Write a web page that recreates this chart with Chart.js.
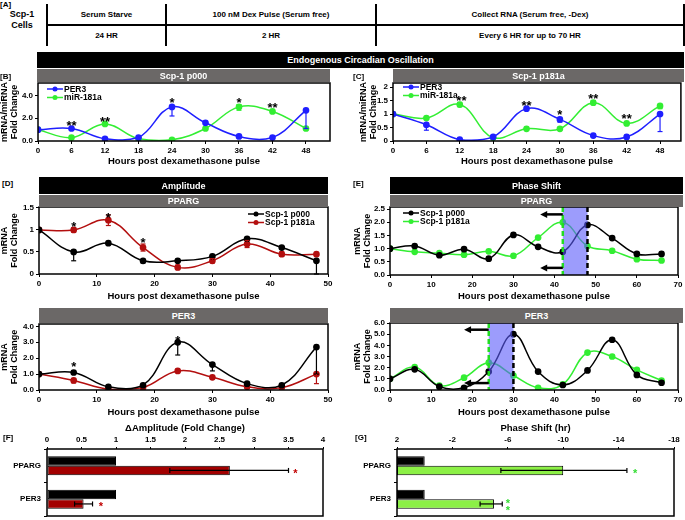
<!DOCTYPE html>
<html>
<head>
<meta charset="utf-8">
<script src="https://cdn.jsdelivr.net/npm/chart.js@4.4.0/dist/chart.umd.min.js"></script>
<style>
  body { margin: 0; width: 685px; height: 520px; position: relative; background: #fff; overflow: hidden;
         font-family: "Liberation Sans", Arial, sans-serif; }
  canvas { position: absolute; }
  .hdr { position: absolute; color: #fff; font-weight: bold; font-size: 9px; display: flex; align-items: center;
         justify-content: center; z-index: 2; font-family: "Liberation Sans Narrow", "Liberation Sans", Arial, sans-serif; }
  .blk { background: #000; }
  .gry { background: #6b6867; }
  .lbl { position: absolute; font-weight: bold; font-size: 8px; z-index: 2; }
  .ln { position: absolute; background: #000; }
  .cell { position: absolute; font-weight: bold; font-size: 8px; text-align: center;
          font-family: "Liberation Sans Narrow", "Liberation Sans", Arial, sans-serif; }
</style>
</head>
<body>
<div class="lbl" style="left:0;top:0">[A]</div>
<div class="cell" style="left:2px;top:9px;width:40px;line-height:11px;font-size:9px">Scp-1<br>Cells</div>
<div class="ln" style="left:46px;top:4px;width:2px;height:42px"></div>
<div class="ln" style="left:165px;top:4px;width:2px;height:42px"></div>
<div class="ln" style="left:375px;top:4px;width:2px;height:42px"></div>
<div class="ln" style="left:683px;top:4px;width:2px;height:42px"></div>
<div class="ln" style="left:47px;top:24px;width:637px;height:1.5px"></div>
<div class="cell" style="left:47px;top:10px;width:119px">Serum Starve</div>
<div class="cell" style="left:166px;top:10px;width:210px">100 nM Dex Pulse (Serum free)</div>
<div class="cell" style="left:376px;top:10px;width:308px">Collect RNA (Serum free, -Dex)</div>
<div class="cell" style="left:47px;top:31px;width:119px">24 HR</div>
<div class="cell" style="left:166px;top:31px;width:210px">2 HR</div>
<div class="cell" style="left:376px;top:31px;width:308px">Every 6 HR for up to 70 HR</div>

<div class="hdr blk" style="left:37px;top:52px;width:647px;height:16px">Endogenous Circadian Oscillation</div>
<div class="hdr gry" style="left:37px;top:69px;width:293px;height:13px">Scp-1 p000</div>
<div class="hdr gry" style="left:393px;top:69px;width:291px;height:13px">Scp-1 p181a</div>
<div class="lbl" style="left:0;top:72px">[B]</div>
<div class="lbl" style="left:353px;top:72px">[C]</div>

<div class="lbl" style="left:2px;top:179px">[D]</div>
<div class="hdr blk" style="left:39px;top:177px;width:289px;height:17px">Amplitude</div>
<div class="hdr gry" style="left:39px;top:195px;width:289px;height:12px">PPARG</div>
<div class="hdr gry" style="left:39px;top:308px;width:289px;height:15px">PER3</div>
<div class="lbl" style="left:353px;top:179px">[E]</div>
<div class="hdr blk" style="left:390px;top:177px;width:293px;height:17px">Phase Shift</div>
<div class="hdr gry" style="left:390px;top:195px;width:293px;height:12px">PPARG</div>
<div class="hdr gry" style="left:390px;top:308px;width:293px;height:15px">PER3</div>

<div class="lbl" style="left:3px;top:433px">[F]</div>
<div class="lbl" style="left:355px;top:433px">[G]</div>

<script>
// ---------- data ----------
const hours48 = [0, 6, 12, 18, 24, 30, 36, 42, 48];
const hours66 = [0, 6, 12, 18, 24, 30, 36, 42, 48, 54, 60, 66];

// [B] Scp-1 p000
const bPer3 = [1.0, 1.1, 0.2, 0.3, 3.0, 1.6, 0.4, 0.3, 2.7];
const bPer3Lo = [0, 0, 0, 0, 0.8, 0, 0, 0, 1.6];
const bMir = [1.0, 0.3, 1.5, 0.2, 0.1, 1.1, 3.0, 2.6, 1.1];
const bMirLo = [0, 0, 0, 0, 0, 0, 0.3, 0, 0];
const bMirHi = [0, 0, 0, 0, 0, 0, 0.2, 0, 0];
const bStars = [[6, 1.6, '**'], [12, 2.0, '**'], [24, 3.65, '*'], [36, 3.65, '*'], [42, 3.25, '**']];

// [C] Scp-1 p181a
const cPer3 = [1.0, 0.6, 0.05, 0.15, 1.2, 0.8, 0.2, 0.15, 1.0];
const cPer3Lo = [0, 0.2, 0, 0, 0, 0.1, 0, 0, 0.65];
const cPer3Hi = [0, 0, 0, 0, 0.03, 0.05, 0, 0, 0];
const cMir = [1.0, 0.85, 1.35, 0.12, 0.45, 0.45, 1.42, 0.65, 1.3];
const cMirLo = [0, 0, 0.08, 0, 0, 0, 0.07, 0, 0.1];
const cMirHi = [0, 0, 0.08, 0, 0, 0, 0.07, 0, 0];
const cStars = [[12.3, 1.6, '**'], [24, 1.43, '**'], [30, 1.11, '*'], [36, 1.68, '**'], [42, 0.94, '**']];

// [D] amplitude, PPARG
const dPpargP000 = [1.0, 0.5, 0.7, 0.3, 0.3, 0.4, 0.8, 0.6, 0.3];
const dPpargP000Lo = [0, 0.2, 0, 0.05, 0, 0, 0, 0, 0.3];
const dPpargP000Hi = [0, 0, 0.02, 0.03, 0, 0, 0, 0.02, 0];
const dPpargP181 = [1.0, 1.0, 1.22, 0.6, 0.15, 0.3, 0.68, 0.45, 0.45];
const dPpargP181Err = [0, 0.05, 0.12, 0.08, 0.05, 0.05, 0.08, 0.05, 0];
const dPpargStars = [[6, 1.15, '*'], [12, 1.36, '*'], [18, 0.79, '*']];
// [D] amplitude, PER3
const dPer3P000 = [1.0, 1.1, 0.2, 0.3, 3.0, 1.6, 0.4, 0.3, 2.7];
const dPer3P000Lo = [0, 0, 0, 0, 0.8, 0.4, 0, 0, 1.7];
const dPer3P181 = [1.0, 0.6, 0.05, 0.15, 1.2, 0.8, 0.2, 0.15, 1.0];
const dPer3P181Lo = [0, 0.15, 0, 0, 0, 0, 0, 0, 0.6];
const dPer3P181Hi = [0, 0.1, 0, 0, 0.05, 0, 0, 0, 0];
const dPer3Stars = [[6, 1.69, '*'], [24, 3.33, '*']];

// [E] phase shift
const ePpargP000 = [1.0, 1.1, 0.75, 0.98, 0.62, 1.52, 1.07, 0.88, 1.9, 1.4, 0.8, 0.8];
const ePpargP181 = [1.0, 0.88, 0.83, 0.77, 0.9, 0.73, 1.42, 2.0, 1.1, 0.92, 0.6, 0.55];
const ePpargPeaks = [42, 48];            // p181a peak, p000 peak
const ePpargArrows = [[42, 36.5, 2.3], [42, 36.5, 0.27]];
const ePer3P000 = [1.0, 1.85, 0.3, 0.2, 1.65, 5.0, 1.65, 0.45, 1.75, 4.5, 1.35, 0.65];
const ePer3P181 = [1.0, 2.05, 0.4, 1.1, 2.45, 1.3, 0.2, 0.5, 3.35, 3.0, 1.8, 0.85];
const ePer3Peaks = [24, 30];
const ePer3Arrows = [[24, 18, 5.4], [24, 18, 0.62]];

// [F] delta amplitude, [G] phase shift bars
const genes = ['PPARG', 'PER3'];
const fP000 = [1, 1];
const fP181 = [2.65, 0.53];
const fP181Lo = [0.87, 0.13];
const fP181Hi = [0.85, 0.13];
const fStars = [3.6, 0.78];
const gP000 = [0, 0];
const gP181 = [-10, -5];
const gP181Lo = [4.6, 0.6];
const gP181Hi = [4.5, 1.0];
const gStars = [-15.2, -6];

// tick values
const ticks48 = [0, 6, 12, 18, 24, 30, 36, 42, 48];
const ticks50 = [0, 10, 20, 30, 40, 50];
const ticks70 = [0, 10, 20, 30, 40, 50, 60, 70];
const bYTicks = [0, 2, 4];
const cYTicks = [0, 0.5, 1, 1.5, 2];
const dPpargYTicks = [0, 0.5, 1, 1.5];
const dPer3YTicks = [0, 1, 2, 3, 4];
const ePpargYTicks = [0, 0.5, 1, 1.5, 2, 2.5];
const ePer3YTicks = [0, 1, 2, 3, 4, 5, 6];
const fXTicks = [0, 0.5, 1, 1.5, 2, 2.5, 3, 3.5, 4];
const gXTicks = [2, -2, -6, -10, -14, -18];

// ---------- style ----------
const BLUE = '#1f1fff', GREEN = '#33ee33', RED = '#b30f0f', BLACK = '#000';
const FONT = '"Liberation Sans", Arial, sans-serif';
const tickFont = { family: FONT, size: 8, weight: 'bold' };
const titleFont = { family: FONT, size: 9.5, weight: 'bold', lineHeight: 1.2 };

function line(ctx, x1, y1, x2, y2) { ctx.beginPath(); ctx.moveTo(x1, y1); ctx.lineTo(x2, y2); ctx.stroke(); }

const extras = {
  id: 'extras',
  afterDatasetsDraw(chart, args, o) {
    const { ctx, chartArea: ca, scales } = chart;
    const xs = scales.x, ys = scales.y;
    const horiz = chart.options.indexAxis === 'y';
    ctx.save();

    // error bars
    chart.data.datasets.forEach((ds, di) => {
      if (!ds.errLo && !ds.errHi) return;
      const meta = chart.getDatasetMeta(di);
      ctx.strokeStyle = ds.errColor || ds.borderColor;
      ctx.lineWidth = 1.2;
      meta.data.forEach((el, i) => {
        const v = ds.errVal ? ds.errVal[i] : ds.data[i].y;
        const lo = ds.errLo ? ds.errLo[i] : 0, hi = ds.errHi ? ds.errHi[i] : 0;
        const cap = 2.5;
        [[lo, -1], [hi, 1]].forEach(([e, s]) => {
          if (!e) return;
          if (horiz) {
            const x0 = xs.getPixelForValue(v), x1 = xs.getPixelForValue(v + s * e);
            line(ctx, x0, el.y, x1, el.y); line(ctx, x1, el.y - cap, x1, el.y + cap);
          } else {
            const y0 = ys.getPixelForValue(v), y1 = ys.getPixelForValue(v + s * e);
            line(ctx, el.x, y0, el.x, y1); line(ctx, el.x - cap, y1, el.x + cap, y1);
          }
        });
      });
    });

    // shaded shift band and peak lines
    if (o.band) {
      const x1 = xs.getPixelForValue(o.band[0]), x2 = xs.getPixelForValue(o.band[1]);
      ctx.fillStyle = 'rgba(90,90,250,0.6)';
      ctx.fillRect(x1, ca.top, x2 - x1, ca.bottom - ca.top);
      ctx.lineWidth = 2.5;
      ctx.setLineDash([5, 3]);
      ctx.strokeStyle = '#22dd22'; line(ctx, x1, ca.top, x1, ca.bottom);
      ctx.strokeStyle = '#000'; line(ctx, x2, ca.top, x2, ca.bottom);
      ctx.setLineDash([]);
    }
    (o.arrows || []).forEach(([from, to, yv]) => {
      const x1 = xs.getPixelForValue(from), x2 = xs.getPixelForValue(to), y = ys.getPixelForValue(yv);
      ctx.strokeStyle = '#000'; ctx.fillStyle = '#000'; ctx.lineWidth = 2.5;
      line(ctx, x1, y, x2 + 5, y);
      ctx.beginPath(); ctx.moveTo(x2, y); ctx.lineTo(x2 + 7, y - 3.5); ctx.lineTo(x2 + 7, y + 3.5); ctx.closePath(); ctx.fill();
    });

    // significance stars
    (o.stars || []).forEach(s => {
      const size = s.size || 13;
      ctx.font = 'bold ' + size + 'px ' + FONT;
      ctx.fillStyle = s.color || '#000';
      ctx.textAlign = 'center'; ctx.textBaseline = 'alphabetic';
      let x = xs.getPixelForValue(s.x), y;
      if (s.cat !== undefined) y = chart.getDatasetMeta(s.ds).data[s.cat].y + (s.dy || 0);
      else y = ys.getPixelForValue(s.y);
      ctx.fillText(s.t, x, y + size * 0.58);
    });

    // legend
    if (o.legend) {
      const L = o.legend;
      ctx.font = 'bold 8.5px ' + FONT; ctx.textAlign = 'left'; ctx.textBaseline = 'middle';
      L.items.forEach((it, i) => {
        const x = ca.left + L.x, y = ca.top + L.y + i * 8.5;
        ctx.strokeStyle = it.color; ctx.fillStyle = it.color; ctx.lineWidth = 1.5;
        line(ctx, x, y, x + 16, y);
        ctx.beginPath(); ctx.arc(x + 8, y, 2.5, 0, Math.PI * 2); ctx.fill();
        ctx.fillStyle = '#000'; ctx.fillText(it.text, x + 17, y + 0.5);
      });
    }

    // plot frame
    ctx.strokeStyle = '#000'; ctx.lineWidth = 1.5;
    ctx.strokeRect(ca.left, ca.top, ca.right - ca.left, ca.bottom - ca.top);
    ctx.restore();
  }
};

function makeCanvas(left, top, w, h) {
  const c = document.createElement('canvas');
  c.width = w; c.height = h;
  c.style.left = left + 'px'; c.style.top = top + 'px';
  c.style.width = w + 'px'; c.style.height = h + 'px';
  document.body.appendChild(c);
  return c.getContext('2d');
}

function axisFit(size, horiz) {
  return scale => {
    if (horiz) scale.height = size; else scale.width = size;
    scale.paddingLeft = 0; scale.paddingRight = 0; scale.paddingTop = 0; scale.paddingBottom = 0;
  };
}
function setTicks(values) { return scale => { scale.ticks = values.map(v => ({ value: v })); }; }

function lineSeries(xs, ys, color, lo, hi) {
  return {
    data: xs.map((x, i) => ({ x, y: ys[i] })),
    borderColor: color, backgroundColor: color, borderWidth: 1.5,
    pointRadius: 2.6, pointHoverRadius: 2.6, tension: 0.4,
    errLo: lo, errHi: hi
  };
}

function lineChart(p) {
  const cl = p.plot.l - p.yW, ct = p.plot.t - p.padT;
  const w = p.plot.r + p.padR - cl, h = p.plot.b + p.xH - ct;
  const ctx = makeCanvas(cl, ct, w, h);
  new Chart(ctx, {
    type: 'line',
    data: { datasets: p.datasets },
    options: {
      responsive: false, animation: false, devicePixelRatio: 1,
      layout: { padding: { left: 0, top: p.padT, right: p.padR, bottom: 0 } },
      plugins: { legend: { display: false }, tooltip: { enabled: false }, extras: p.extras },
      scales: {
        x: {
          type: 'linear', min: p.xMin, max: p.xMax,
          afterBuildTicks: setTicks(p.xTicks), afterFit: axisFit(p.xH, true),
          grid: { drawOnChartArea: false, color: '#000', tickLength: 3 },
          border: { display: false },
          ticks: { font: tickFont, color: '#000', padding: 2, maxRotation: 0, autoSkip: false },
          title: { display: true, text: 'Hours post dexamethasone pulse', font: titleFont, color: '#000', padding: 0 }
        },
        y: {
          min: 0, max: p.yMax,
          afterBuildTicks: setTicks(p.yTicks), afterFit: axisFit(p.yW, false),
          grid: { drawOnChartArea: false, color: '#000', tickLength: 3 },
          border: { display: false },
          ticks: { font: tickFont, color: '#000', padding: 2, autoSkip: false, callback: p.yFmt },
          title: { display: true, text: p.yTitle, font: { family: FONT, size: 9, weight: 'bold', lineHeight: 1.05 },
                   color: '#000', padding: { top: p.yTitlePad || 0, bottom: 0 } }
        }
      }
    },
    plugins: [extras]
  });
}

const stars = (arr, extra) => arr.map(([x, y, t]) => Object.assign({ x, y, t }, extra || {}));
const fmt1 = v => v.toFixed(1);
const fmtG = v => String(v);

// [B]
lineChart({
  plot: { l: 38, t: 83, r: 330, b: 141 }, yW: 38, xH: 26, padT: 6, padR: 8,
  xMin: 0, xMax: 52.3, xTicks: ticks48, yMax: 5.1, yTicks: bYTicks, yFmt: fmt1,
  yTitle: ['mRNA/miRNA', 'Fold Change'],
  datasets: [lineSeries(hours48, bPer3, BLUE, bPer3Lo, null), lineSeries(hours48, bMir, GREEN, bMirLo, bMirHi)],
  extras: { stars: stars(bStars), legend: { x: 9, y: 6, items: [{ text: 'PER3', color: BLUE }, { text: 'miR-181a', color: GREEN }] } }
});
// [C]
lineChart({
  plot: { l: 393, t: 83, r: 683, b: 141 }, yW: 34, xH: 26, padT: 6, padR: 2,
  xMin: 0, xMax: 51.75, xTicks: ticks48, yMax: 2.15, yTicks: cYTicks, yFmt: fmtG,
  yTitle: ['mRNA/miRNA', 'Fold Change'],
  datasets: [lineSeries(hours48, cPer3, BLUE, cPer3Lo, cPer3Hi), lineSeries(hours48, cMir, GREEN, cMirLo, cMirHi)],
  extras: { stars: stars(cStars), legend: { x: 10, y: 4, items: [{ text: 'PER3', color: BLUE }, { text: 'miR-181a', color: GREEN }] } }
});
// [D] PPARG
lineChart({
  plot: { l: 39, t: 207, r: 328, b: 274 }, yW: 39, xH: 28, padT: 6, padR: 8,
  xMin: 0, xMax: 50, xTicks: ticks50, yMax: 1.52, yTicks: dPpargYTicks, yFmt: fmtG,
  yTitle: ['mRNA', 'Fold Change'],
  datasets: [lineSeries(hours48, dPpargP000, BLACK, dPpargP000Lo, dPpargP000Hi),
             lineSeries(hours48, dPpargP181, RED, dPpargP181Err, dPpargP181Err)],
  extras: { stars: stars(dPpargStars), legend: { x: 209, y: 7, items: [{ text: 'Scp-1 p000', color: BLACK }, { text: 'Scp-1 p181a', color: RED }] } }
});
// [D] PER3
lineChart({
  plot: { l: 39, t: 324, r: 328, b: 390 }, yW: 39, xH: 28, padT: 6, padR: 8,
  xMin: 0, xMax: 50, xTicks: ticks50, yMax: 4.15, yTicks: dPer3YTicks, yFmt: fmt1,
  yTitle: ['mRNA', 'Fold Change'],
  datasets: [lineSeries(hours48, dPer3P000, BLACK, dPer3P000Lo, null),
             lineSeries(hours48, dPer3P181, RED, dPer3P181Lo, dPer3P181Hi)],
  extras: { stars: stars(dPer3Stars) }
});
// [E] PPARG
lineChart({
  plot: { l: 390, t: 207, r: 678, b: 275 }, yW: 37, xH: 27, padT: 6, padR: 7,
  xMin: 0, xMax: 70, xTicks: ticks70, yMax: 2.58, yTicks: ePpargYTicks, yFmt: fmt1,
  yTitle: ['mRNA', 'Fold Change'],
  datasets: [lineSeries(hours66, ePpargP000, BLACK), lineSeries(hours66, ePpargP181, GREEN)],
  extras: { band: ePpargPeaks, arrows: ePpargArrows,
            legend: { x: 13, y: 6, items: [{ text: 'Scp-1 p000', color: BLACK }, { text: 'Scp-1 p181a', color: GREEN }] } }
});
// [E] PER3
lineChart({
  plot: { l: 390, t: 323, r: 678, b: 390 }, yW: 37, xH: 28, padT: 6, padR: 7,
  xMin: 0, xMax: 70, xTicks: ticks70, yMax: 6.0, yTicks: ePer3YTicks, yFmt: fmt1,
  yTitle: ['mRNA', 'Fold Change'],
  datasets: [lineSeries(hours66, ePer3P000, BLACK), lineSeries(hours66, ePer3P181, GREEN)],
  extras: { band: ePer3Peaks, arrows: ePer3Arrows }
});

// [F] / [G] horizontal bars
function barChart(p) {
  const cl = p.plot.l - p.yW, ct = p.plot.t - p.xH;
  const w = p.plot.r + p.padR - cl, h = p.plot.b + p.padB - ct;
  const ctx = makeCanvas(cl, ct, w, h);
  new Chart(ctx, {
    type: 'bar',
    data: {
      labels: genes,
      datasets: [
        { data: p.base, backgroundColor: '#000', borderColor: '#000', borderWidth: 1, borderSkipped: false },
        { data: p.vals, backgroundColor: p.color, borderColor: '#000', borderWidth: 1, borderSkipped: false,
          errVal: p.errVal, errLo: p.lo, errHi: p.hi, errColor: '#000' }
      ]
    },
    options: {
      indexAxis: 'y', responsive: false, animation: false, devicePixelRatio: 1,
      categoryPercentage: 0.56, barPercentage: 1.0,
      layout: { padding: { left: 0, top: 0, right: p.padR, bottom: p.padB } },
      plugins: { legend: { display: false }, tooltip: { enabled: false }, extras: { stars: p.stars } },
      scales: {
        x: {
          type: 'linear', position: 'top', min: p.xMin, max: p.xMax, reverse: !!p.reverse,
          afterBuildTicks: setTicks(p.xTicks), afterFit: axisFit(p.xH, true),
          grid: { drawOnChartArea: false, color: '#000', tickLength: 2 },
          border: { display: false },
          ticks: { font: tickFont, color: '#000', padding: 2, maxRotation: 0, autoSkip: false, callback: fmtG },
          title: { display: true, text: p.title, font: titleFont, color: '#000', padding: 0 }
        },
        y: {
          afterFit: axisFit(p.yW, false),
          grid: { drawOnChartArea: false, color: '#000', tickLength: 3 },
          border: { display: false },
          ticks: { font: tickFont, color: '#000', padding: 3 }
        }
      }
    },
    plugins: [extras]
  });
}

barChart({
  plot: { l: 47, t: 449, r: 323, b: 516 }, yW: 47, xH: 26, padR: 10, padB: 3,
  xMin: 0, xMax: 4, xTicks: fXTicks, title: '\u0394Amplitude (Fold Change)',
  base: fP000, vals: fP181, errVal: fP181, lo: fP181Lo, hi: fP181Hi, color: '#a30000',
  stars: [{ x: fStars[0], cat: 0, ds: 1, t: '*', color: '#c00000', size: 11 },
          { x: fStars[1], cat: 1, ds: 1, t: '*', color: '#c00000', size: 11 }]
});
barChart({
  plot: { l: 397, t: 449, r: 674, b: 516 }, yW: 47, xH: 26, padR: 10, padB: 3,
  xMin: -18, xMax: 2, reverse: true, xTicks: gXTicks, title: 'Phase Shift (hr)',
  base: gP000.map(v => [2, v]), vals: gP181.map(v => [2, v]), errVal: gP181, lo: gP181Lo, hi: gP181Hi, color: '#8cf046',
  stars: [{ x: gStars[0], cat: 0, ds: 1, t: '*', color: '#33dd33', size: 11 },
          { x: gStars[1], cat: 1, ds: 1, t: '*', color: '#33dd33', size: 11, dy: -3.5 },
          { x: gStars[1], cat: 1, ds: 1, t: '*', color: '#33dd33', size: 11, dy: 3.5 }]
});
</script>
</body>
</html>
